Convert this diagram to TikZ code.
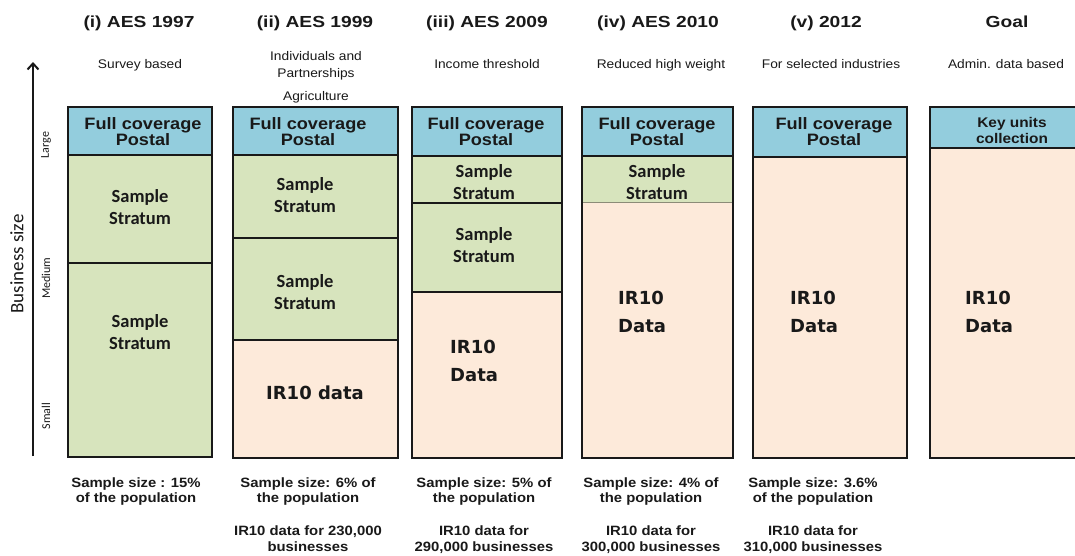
\documentclass[tikz,border=0pt]{standalone}
\usepackage{fontspec}
\usetikzlibrary{arrows.meta}
\newfontfamily\arialf[FakeStretch=1.1]{Liberation Sans}
\newfontfamily\titlef[FakeStretch=1.2]{Liberation Sans}
\newfontfamily\calf{Carlito}
\newfontfamily\verdf{DejaVu Sans}
\definecolor{hdrblue}{RGB}{147,205,221}
\definecolor{smpgreen}{RGB}{215,228,189}
\definecolor{irpeach}{RGB}{253,234,218}
\definecolor{ink}{RGB}{25,25,25}
\definecolor{thinline}{RGB}{140,140,120}
\tikzset{
  yeartitle/.style={font={\titlef\bfseries\fontsize{16}{18}\selectfont}, text=ink, anchor=base, inner sep=0pt},
  subtitle/.style={font={\arialf\fontsize{12.5}{15}\selectfont}, text=ink, anchor=base, inner sep=0pt},
  sizenote/.style={font={\arialf\bfseries\fontsize{13.5}{15}\selectfont}, text=ink, anchor=base, inner sep=0pt},
  hdrtext/.style={font={\arialf\bfseries\fontsize{16.5}{16}\selectfont}, text=ink, align=center, inner sep=0pt},
  keytext/.style={font={\arialf\bfseries\fontsize{14}{16}\selectfont}, text=ink, align=center, inner sep=0pt},
  smptext/.style={font={\calf\bfseries\fontsize{18.5}{22}\selectfont}, text=ink, align=center, inner sep=0pt},
  irtext/.style={font={\verdf\bfseries\fontsize{18}{28}\selectfont}, text=ink, align=left, inner sep=0pt},
  axislabel/.style={font={\calf\fontsize{12}{14}\selectfont}, text=ink, rotate=90, inner sep=0pt},
  hdr/.style={fill=hdrblue},
  smp/.style={fill=smpgreen},
  irp/.style={fill=irpeach},
  divide/.style={draw=ink, line width=1.6pt},
  colframe/.style={draw=ink, line width=2.2pt},
}
\begin{document}
\begin{tikzpicture}[x=1pt, y=-1pt]
\useasboundingbox (0,0) rectangle (1075,555);
\clip (0,0) rectangle (1075,555);
% axis
\coordinate (ybot) at (33,456);
\coordinate (ytop) at (33,62);
\draw[ink, line width=2pt, -{Straight Barb[length=6pt, width=11pt]}] (ybot) -- (ytop);
\node[axislabel, font={\calf\fontsize{19}{22}\selectfont}] (bsize) at (17,264) {Business size};
\node[axislabel] (large) at (46,145) {Large};
\node[axislabel] (medium) at (46,278) {Medium};
\node[axislabel] (small) at (46,416) {Small};
% titles
\node[yeartitle] (t1) at (139,27) {(i) AES 1997};
\node[yeartitle] (t2) at (315,27) {(ii) AES 1999};
\node[yeartitle] (t3) at (487,27) {(iii) AES 2009};
\node[yeartitle] (t4) at (658,27) {(iv) AES 2010};
\node[yeartitle] (t5) at (826,27) {(v) 2012};
\node[yeartitle] (t6) at (1007,27) {Goal};
% subtitles
\node[subtitle] (s1) at (140,68) {Survey based};
\node[subtitle] (s2a) at (316,60) {Individuals and};
\node[subtitle] (s2b) at (316,77) {Partnerships};
\node[subtitle] (s2c) at (316,100) {Agriculture};
\node[subtitle] (s3) at (487,68) {Income threshold};
\node[subtitle] (s4) at (661,68) {Reduced high weight};
\node[subtitle] (s5) at (831,68) {For selected industries};
\node[subtitle] (s6) at (1006,68) {Admin. data based};
% column 1
\fill[hdr] (68,107) rectangle (212,155);
\fill[smp] (68,155) rectangle (212,457);
\draw[divide] (68,155) -- (212,155);
\draw[divide] (68,263) -- (212,263);
\draw[colframe] (68,107) rectangle (212,457);
% column 2
\fill[hdr] (233,107) rectangle (398,155);
\fill[smp] (233,155) rectangle (398,340);
\fill[irp] (233,340) rectangle (398,458);
\draw[divide] (233,155) -- (398,155);
\draw[divide] (233,238) -- (398,238);
\draw[divide] (233,340) -- (398,340);
\draw[colframe] (233,107) rectangle (398,458);
% column 3
\fill[hdr] (412,107) rectangle (562,156);
\fill[smp] (412,156) rectangle (562,292);
\fill[irp] (412,292) rectangle (562,458);
\draw[divide] (412,156) -- (562,156);
\draw[divide] (412,203) -- (562,203);
\draw[divide] (412,292) -- (562,292);
\draw[colframe] (412,107) rectangle (562,458);
% column 4
\fill[hdr] (582,107) rectangle (733,156);
\fill[smp] (582,156) rectangle (733,202);
\fill[irp] (582,202) rectangle (733,458);
\draw[divide] (582,156) -- (733,156);
\draw[thinline, line width=1pt] (582,202) -- (733,202);
\draw[colframe] (582,107) rectangle (733,458);
% column 5
\fill[hdr] (753,107) rectangle (907,157);
\fill[irp] (753,157) rectangle (907,458);
\draw[divide] (753,157) -- (907,157);
\draw[colframe] (753,107) rectangle (907,458);
% column 6
\fill[hdr] (930,107) rectangle (1090,148);
\fill[irp] (930,148) rectangle (1090,458);
\draw[divide] (930,148) -- (1090,148);
\draw[colframe] (930,107) rectangle (1090,458);
% box texts
\node[hdrtext] (h1) at (143,131.5) {Full coverage\\Postal};
\node[hdrtext] (h2) at (308,131.5) {Full coverage\\Postal};
\node[hdrtext] (h3) at (486,131.5) {Full coverage\\Postal};
\node[hdrtext] (h4) at (657,131.5) {Full coverage\\Postal};
\node[hdrtext] (h5) at (834,131.5) {Full coverage\\Postal};
\node[keytext] (h6) at (1012,130) {Key units\\collection};
\node[smptext] (p1a) at (140,207.5) {Sample\\Stratum};
\node[smptext] (p1b) at (140,332) {Sample\\Stratum};
\node[smptext] (p2a) at (305,195) {Sample\\Stratum};
\node[smptext] (p2b) at (305,292.5) {Sample\\Stratum};
\node[smptext] (p3a) at (484,182.5) {Sample\\Stratum};
\node[smptext] (p3b) at (484,245) {Sample\\Stratum};
\node[smptext] (p4a) at (657,182) {Sample\\Stratum};
\node[irtext] (r2) at (315,393) {IR10 data};
\node[irtext, anchor=west] (r3) at (450,361) {IR10\\Data};
\node[irtext, anchor=west] (r4) at (618,312) {IR10\\Data};
\node[irtext, anchor=west] (r5) at (790,312) {IR10\\Data};
\node[irtext, anchor=west] (r6) at (965,311.5) {IR10\\Data};
% sample sizes
\node[sizenote] (n1a) at (136,487) {Sample size : 15\%};
\node[sizenote] (n1b) at (136,502.5) {of the population};
\node[sizenote] (n2a) at (308,487) {Sample size: 6\% of};
\node[sizenote] (n2b) at (308,502.5) {the population};
\node[sizenote] (n2c) at (308,535.5) {IR10 data for 230,000};
\node[sizenote] (n2d) at (308,551) {businesses};
\node[sizenote] (n3a) at (484,487) {Sample size: 5\% of};
\node[sizenote] (n3b) at (484,502.5) {the population};
\node[sizenote] (n3c) at (484,535.5) {IR10 data for};
\node[sizenote] (n3d) at (484,551) {290,000 businesses};
\node[sizenote] (n4a) at (651,487) {Sample size: 4\% of};
\node[sizenote] (n4b) at (651,502.5) {the population};
\node[sizenote] (n4c) at (651,535.5) {IR10 data for};
\node[sizenote] (n4d) at (651,551) {300,000 businesses};
\node[sizenote] (n5a) at (813,487) {Sample size: 3.6\%};
\node[sizenote] (n5b) at (813,502.5) {of the population};
\node[sizenote] (n5c) at (813,535.5) {IR10 data for};
\node[sizenote] (n5d) at (813,551) {310,000 businesses};
\end{tikzpicture}
\end{document}
